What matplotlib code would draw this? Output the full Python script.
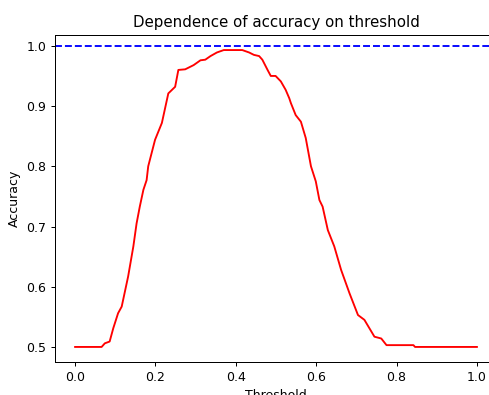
import matplotlib
matplotlib.use("Agg")
import matplotlib.pyplot as plt

thresholds = [0.0, 0.066, 0.074, 0.086, 0.095, 0.107, 0.116, 0.132, 0.145, 0.153, 0.161,
              0.170, 0.178, 0.182, 0.199, 0.216, 0.232, 0.249, 0.257, 0.274, 0.295, 0.312,
              0.324, 0.337, 0.353, 0.370, 0.416, 0.433, 0.445, 0.458, 0.466, 0.479, 0.487,
              0.499, 0.512, 0.524, 0.533, 0.537, 0.549, 0.562, 0.574, 0.587, 0.599, 0.608,
              0.616, 0.629, 0.645, 0.662, 0.683, 0.704, 0.720, 0.745, 0.762, 0.775, 0.842,
              0.846, 1.0]
accuracy = [0.5, 0.5, 0.506, 0.509, 0.531, 0.556, 0.567, 0.617, 0.667, 0.705, 0.733,
            0.761, 0.777, 0.80, 0.844, 0.872, 0.921, 0.932, 0.960, 0.961, 0.968, 0.976,
            0.977, 0.983, 0.989, 0.993, 0.993, 0.989, 0.985, 0.983, 0.977, 0.960, 0.950,
            0.950, 0.941, 0.927, 0.913, 0.905, 0.885, 0.874, 0.847, 0.80, 0.775, 0.744,
            0.733, 0.694, 0.667, 0.628, 0.589, 0.553, 0.545, 0.517, 0.514, 0.503, 0.503,
            0.5, 0.5]
reference_level = 1.0

DPI = 90
fig = plt.figure(figsize=(489 / DPI, 395 / DPI), dpi=DPI)
ax = fig.add_axes([55 / 489, 1 - 362 / 395, (497 - 55) / 489, (362 - 35) / 395])
ax.plot(thresholds, accuracy, color="red", linewidth=1.5)
ax.axhline(reference_level, color="blue", linestyle="--", linewidth=1.5)
ax.spines["right"].set_visible(False)
ax.set_xlim(-0.05, 1.05)
ax.set_ylim(0.475, 1.018)
ax.set_title("Dependence of accuracy on threshold")
ax.set_xlabel("Threshold")
ax.set_ylabel("Accuracy")
fig.savefig("out.png", dpi=DPI)
